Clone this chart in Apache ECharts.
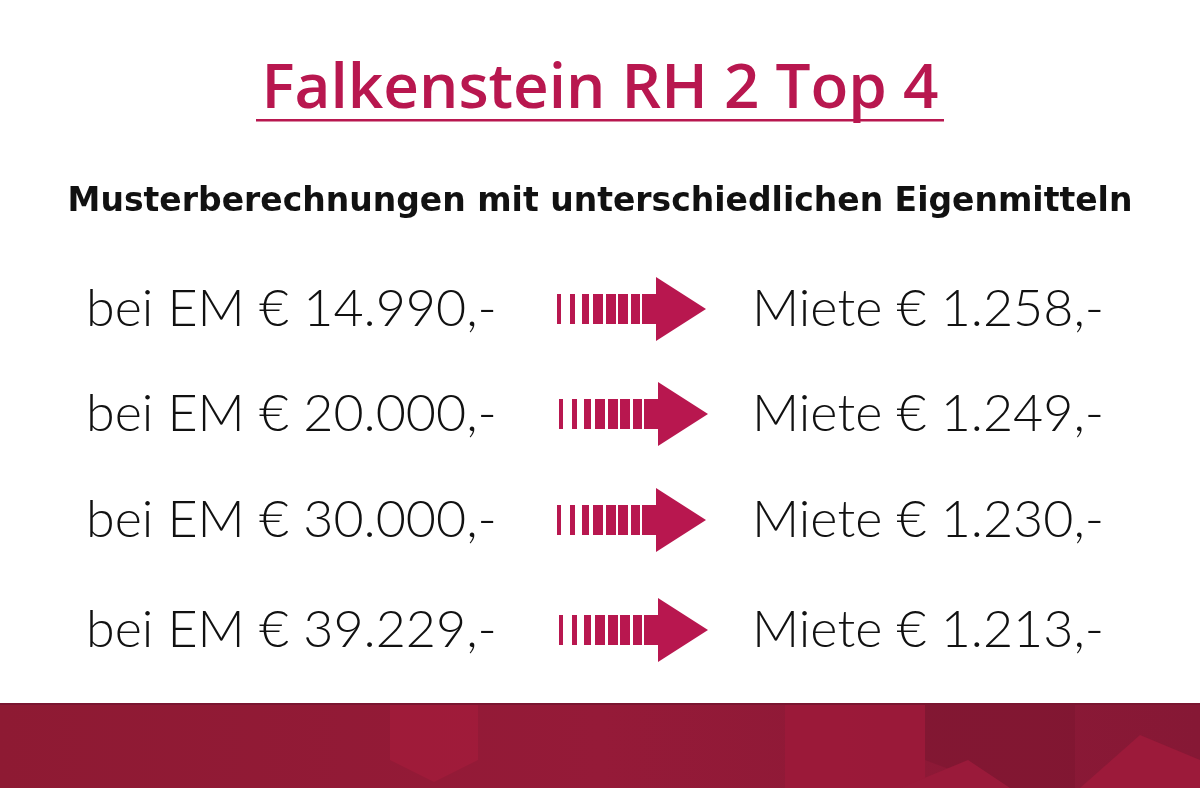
<!DOCTYPE html>
<html><head><meta charset="utf-8">
<script src="https://cdn.jsdelivr.net/npm/echarts@6/dist/echarts.min.js"></script>
<style>html,body{margin:0;padding:0;background:#fff}#c{width:1200px;height:788px}</style>
</head><body><div id="c"></div>
<script>
const titleText = 'Falkenstein RH 2 Top 4';
const subtitleText = 'Musterberechnungen mit unterschiedlichen Eigenmitteln';
const eigenmittel = ['bei EM € 14.990,-','bei EM € 20.000,-','bei EM € 30.000,-','bei EM € 39.229,-'];
const miete = ['Miete € 1.258,-','Miete € 1.249,-','Miete € 1.230,-','Miete € 1.213,-'];
const rowY = [309, 414, 520, 630];

const red = '#b8174f';
const g = [];
g.push({type:'rect',shape:{x:0,y:0,width:1200,height:788},style:{fill:'#fff'}});
g.push({type:'text',x:600,y:90,style:{text:titleText,font:'600 62px "Open Sans"',fill:red,textAlign:'center',textVerticalAlign:'middle'}});
g.push({type:'rect',shape:{x:256,y:119,width:688,height:2.5},style:{fill:red}});
g.push({type:'text',x:600,y:202,style:{text:subtitleText,font:'bold 33px "DejaVu Sans"',fill:'#111',textAlign:'center',textVerticalAlign:'middle'}});
const bars=[[0,4],[13,5],[25,7],[36,10],[49,10],[61,10],[74,9]];
rowY.forEach((y,i)=>{
  g.push({type:'text',x:86,y:y,style:{text:eigenmittel[i],font:'300 52px Lato',fill:'#111',textVerticalAlign:'middle'}});
  g.push({type:'text',x:752,y:y,style:{text:miete[i],font:'300 52px Lato',fill:'#111',textVerticalAlign:'middle'}});
  const x0 = 557 + (i%2?2:0);
  bars.forEach(b=>g.push({type:'rect',shape:{x:x0+b[0],y:y-15,width:b[1],height:30},style:{fill:red}}));
  g.push({type:'polygon',shape:{points:[[x0+85,y-15],[x0+99,y-15],[x0+99,y-32],[x0+149,y],[x0+99,y+32],[x0+99,y+15],[x0+85,y+15]]},style:{fill:red}});
});
// bottom band
g.push({type:'rect',shape:{x:0,y:703,width:1200,height:85},style:{fill:{type:'linear',x:0,y:0,x2:1,y2:0,colorStops:[{offset:0,color:'#8e1a33'},{offset:0.5,color:'#951a38'},{offset:1,color:'#861835'}]}}});
g.push({type:'rect',shape:{x:0,y:703,width:1200,height:2},style:{fill:'#7a1530'}});
g.push({type:'polygon',shape:{points:[[390,705],[478,705],[478,760],[434,782],[390,760]]},style:{fill:'#a21b3b',opacity:0.8}});
g.push({type:'polygon',shape:{points:[[785,705],[925,705],[925,788],[785,788]]},style:{fill:'#a01a3a',opacity:0.7}});
g.push({type:'polygon',shape:{points:[[925,705],[1075,705],[1075,788],[1000,788],[925,760]]},style:{fill:'#801632',opacity:0.8}});
g.push({type:'polygon',shape:{points:[[900,788],[968,760],[1010,788]]},style:{fill:'#9a1a3a'}});
g.push({type:'polygon',shape:{points:[[1080,788],[1140,735],[1200,760],[1200,788]]},style:{fill:'#9c1a3a'}});
const chart = echarts.init(document.getElementById('c'));
chart.setOption({graphic:{elements:g}});
</script></body></html>
